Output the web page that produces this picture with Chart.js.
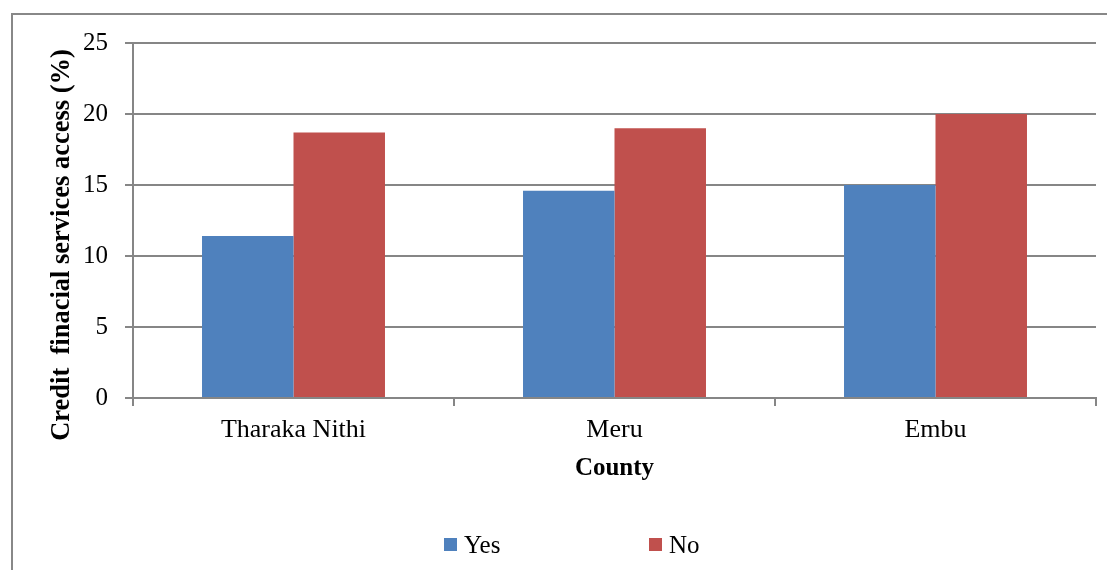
<!DOCTYPE html>
<html>
<head>
<meta charset="utf-8">
<script src="https://cdn.jsdelivr.net/npm/chart.js@4/dist/chart.umd.min.js"></script>
<style>
  html, body { margin: 0; padding: 0; background: #fff; overflow: hidden; }
  #wrap { position: relative; width: 1107px; height: 570px; }
  #frame { position: absolute; left: 11px; top: 13px; width: 1200px; height: 700px; border: 2px solid #888; box-sizing: border-box; }
  canvas { position: absolute; left: 0; top: 0; }
</style>
</head>
<body>
<div id="wrap">
  <div id="frame"></div>
  <canvas id="c" width="1107" height="570"></canvas>
</div>
<script>
const categories = ["Tharaka Nithi", "Meru", "Embu"];
const yesValues = [11.4, 14.6, 15.0];
const noValues = [18.7, 19.0, 20.0];
const seriesNames = ["Yes", "No"];
const yTicks = [0, 5, 10, 15, 20, 25];
const yTitle = "Credit  finacial services access (%)";
const xTitle = "County";

const FONT = "'Liberation Serif', 'Times New Roman', serif";
const GRID = "#868686";

const yTitlePlugin = {
  id: 'yTitle',
  afterDraw(chart) {
    const ctx = chart.ctx;
    ctx.save();
    ctx.translate(62, 245);
    ctx.rotate(-Math.PI / 2);
    ctx.font = "bold 26.5px " + FONT;
    ctx.fillStyle = "#000";
    ctx.textAlign = "center";
    ctx.textBaseline = "middle";
    ctx.fillText(yTitle, 0, 0);
    ctx.restore();
  }
};

const legendPlugin = {
  id: 'customLegend',
  afterDraw(chart) {
    const ctx = chart.ctx;
    const xs = [444, 649];
    ctx.save();
    ctx.font = "25px " + FONT;
    ctx.textBaseline = "middle";
    ctx.textAlign = "left";
    chart.data.datasets.forEach((ds, i) => {
      ctx.fillStyle = ds.backgroundColor;
      ctx.fillRect(xs[i], 538, 13, 13);
      ctx.fillStyle = "#000";
      ctx.fillText(ds.label, xs[i] + 20, 546);
    });
    ctx.restore();
  }
};

new Chart(document.getElementById('c'), {
  type: 'bar',
  data: {
    labels: categories,
    datasets: [
      { label: seriesNames[0], data: yesValues, backgroundColor: "#4F81BD", categoryPercentage: 0.57, barPercentage: 1.0 },
      { label: seriesNames[1], data: noValues, backgroundColor: "#C0504D", categoryPercentage: 0.57, barPercentage: 1.0 }
    ]
  },
  options: {
    responsive: false,
    animation: false,
    devicePixelRatio: 1,
    layout: { padding: { left: 0, top: 43, right: 11, bottom: 72 } },
    plugins: { legend: { display: false }, tooltip: { enabled: false } },
    scales: {
      x: {
        grid: { display: true, drawOnChartArea: false, drawTicks: true, tickLength: 8, color: GRID, lineWidth: 2, offset: true },
        border: { display: true, color: GRID, width: 2 },
        ticks: { color: "#000", font: { family: FONT, size: 26 }, padding: 9, maxRotation: 0, autoSkip: false },
        title: { display: true, text: xTitle, color: "#000", font: { family: FONT, size: 25, weight: 'bold' }, padding: { top: 0, bottom: 14 } },
        afterFit(scale) { scale.height = 100; }
      },
      y: {
        min: 0, max: 25,
        afterBuildTicks(scale) { scale.ticks = yTicks.map(v => ({ value: v })); },
        grid: { color: GRID, lineWidth: 2, tickLength: 8, drawTicks: true },
        border: { display: true, color: GRID, width: 2 },
        ticks: { color: "#000", font: { family: FONT, size: 25 }, padding: 17 },
        afterFit(scale) { scale.width = 133; }
      }
    }
  },
  plugins: [yTitlePlugin, legendPlugin]
});
</script>
</body>
</html>
